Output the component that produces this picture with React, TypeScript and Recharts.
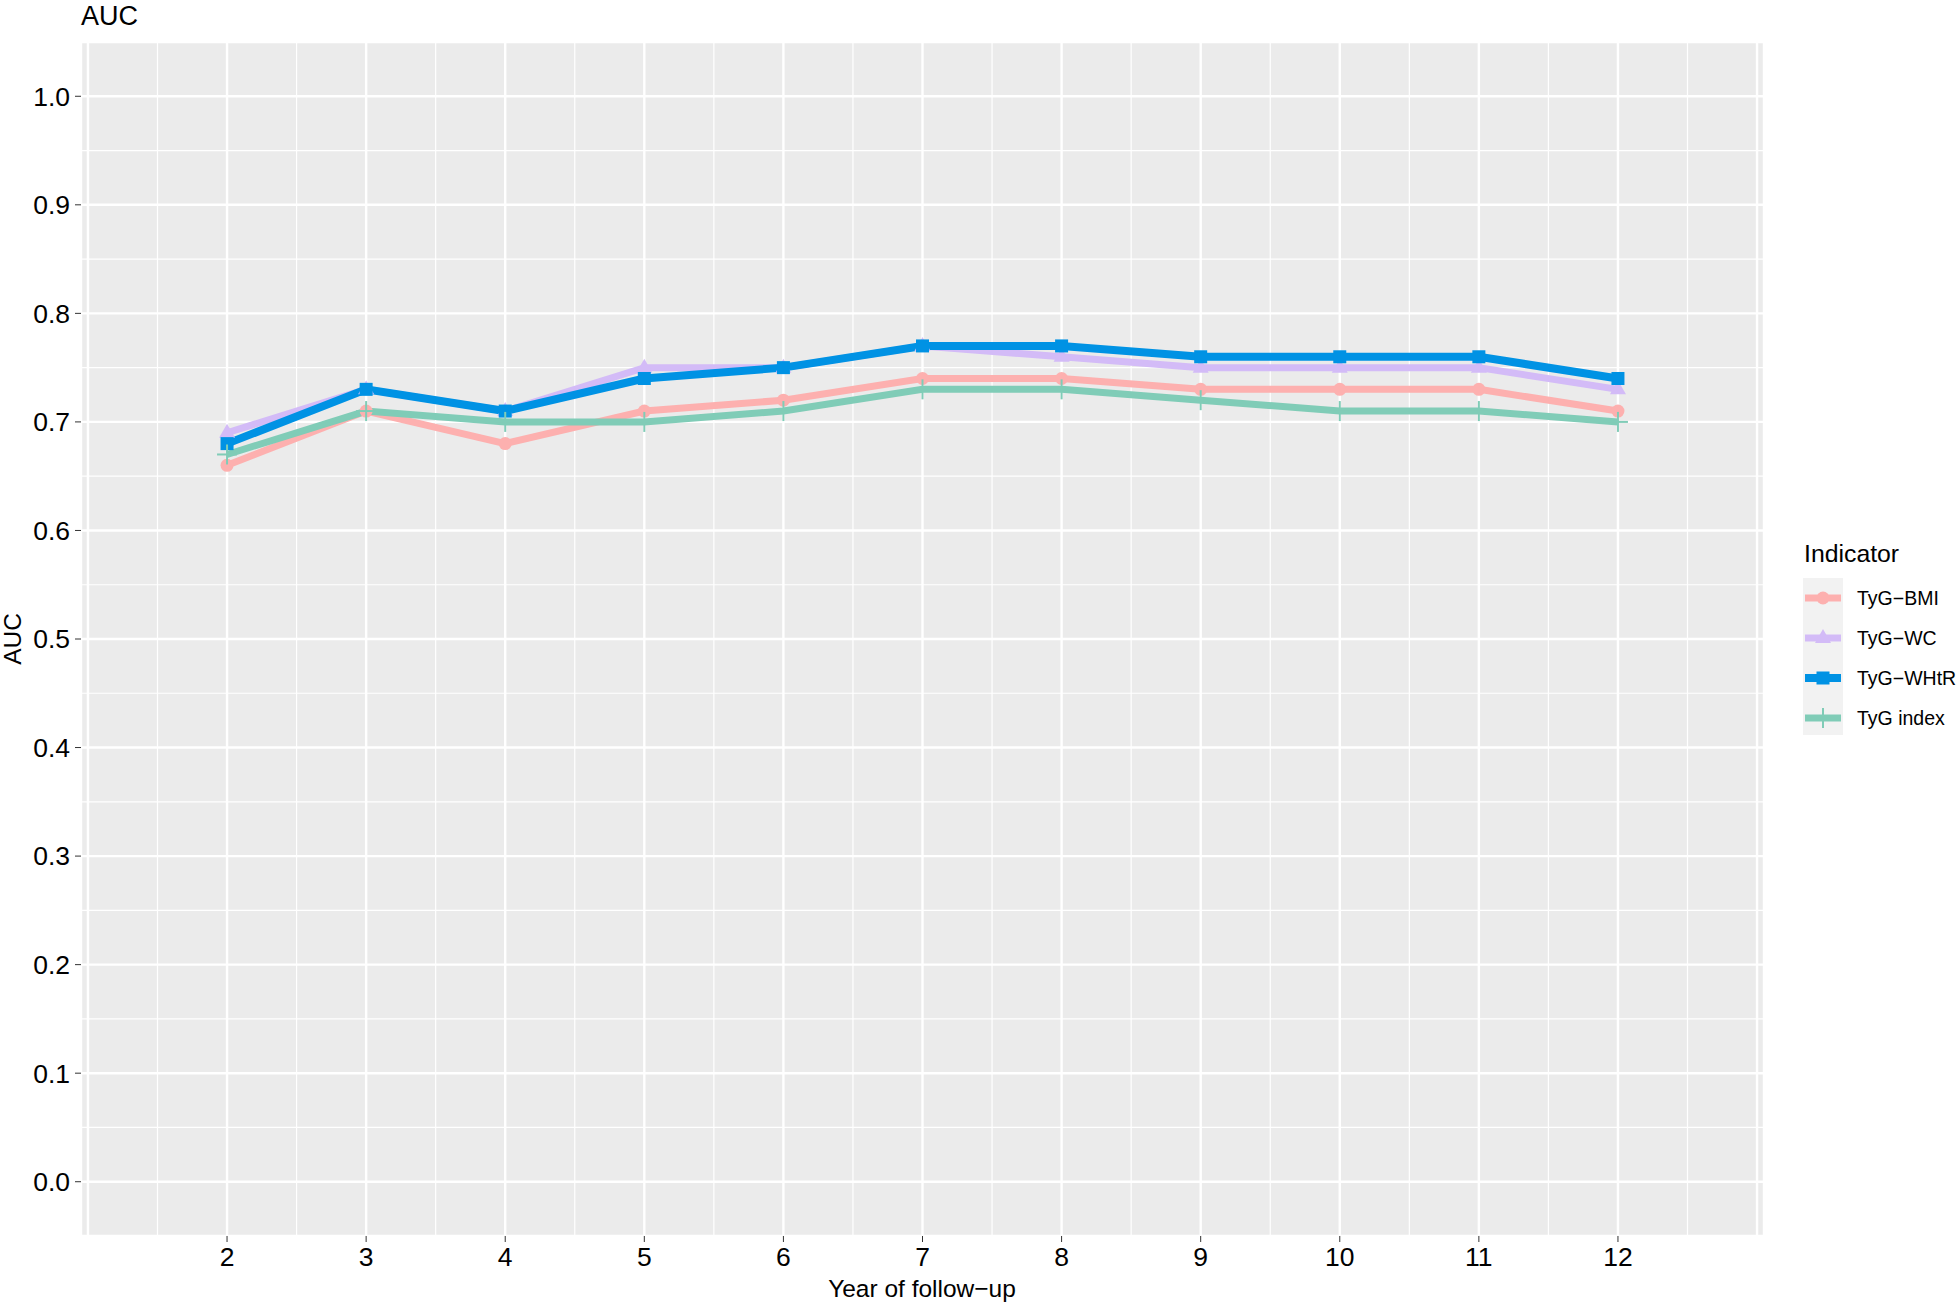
import React from 'react'
import { LineChart, Line, XAxis, YAxis, CartesianGrid } from 'recharts'

// values
const years = [2, 3, 4, 5, 6, 7, 8, 9, 10, 11, 12]
const tygBmi = [0.66, 0.71, 0.68, 0.71, 0.72, 0.74, 0.74, 0.73, 0.73, 0.73, 0.71]
const tygWc = [0.69, 0.73, 0.71, 0.75, 0.75, 0.77, 0.76, 0.75, 0.75, 0.75, 0.73]
const tygWhtr = [0.68, 0.73, 0.71, 0.74, 0.75, 0.77, 0.77, 0.76, 0.76, 0.76, 0.74]
const tygIndex = [0.67, 0.71, 0.7, 0.7, 0.71, 0.73, 0.73, 0.72, 0.71, 0.71, 0.7]

const yTicks = [0, 0.1, 0.2, 0.3, 0.4, 0.5, 0.6, 0.7, 0.8, 0.9, 1.0]
const yMinor = [0.05, 0.15, 0.25, 0.35, 0.45, 0.55, 0.65, 0.75, 0.85, 0.95]
const xMajor = [1, 2, 3, 4, 5, 6, 7, 8, 9, 10, 11, 12, 13]
const xMinor = [1.5, 2.5, 3.5, 4.5, 5.5, 6.5, 7.5, 8.5, 9.5, 10.5, 11.5, 12.5]

const series = [
  { key: 'bmi', name: 'TyG−BMI', color: '#FDB0AF', shape: 'circle', width: 7 },
  { key: 'wc', name: 'TyG−WC', color: '#D3BBF7', shape: 'triangle', width: 7 },
  { key: 'whtr', name: 'TyG−WHtR', color: '#0092E4', shape: 'square', width: 8 },
  { key: 'tyg', name: 'TyG index', color: '#80CCB7', shape: 'plus', width: 7 },
]

const data = years.map((y, i) => ({
  year: y,
  bmi: tygBmi[i],
  wc: tygWc[i],
  whtr: tygWhtr[i],
  tyg: tygIndex[i],
}))

const FONT = '"Liberation Sans", Arial, sans-serif'

function Marker({ cx, cy, shape, color }: any) {
  if (cx == null || cy == null) return null
  if (shape === 'circle') return <circle cx={cx} cy={cy} r={6.5} fill={color} />
  if (shape === 'square') return <rect x={cx - 6.5} y={cy - 6.5} width={13} height={13} fill={color} />
  if (shape === 'triangle')
    return <polygon points={`${cx},${cy - 9} ${cx - 8},${cy + 5} ${cx + 8},${cy + 5}`} fill={color} />
  return (
    <g stroke={color} strokeWidth={2}>
      <line x1={cx - 10} y1={cy} x2={cx + 10} y2={cy} />
      <line x1={cx} y1={cy - 10} x2={cx} y2={cy + 10} />
    </g>
  )
}

function LegendBox() {
  return (
    <svg width={170} height={200} style={{ position: 'absolute', left: 1795, top: 535 }}>
      <text x={9} y={27} fontSize={24.8} fill="#000" fontFamily={FONT}>Indicator</text>
      <rect x={8} y={43} width={40} height={159} fill="#F2F2F2" />
      {series.map((s, i) => {
        const cy = 63 + i * 40
        return (
          <g key={s.key}>
            <line x1={10} y1={cy} x2={46} y2={cy} stroke={s.color} strokeWidth={s.width} />
            <Marker cx={28} cy={cy} shape={s.shape} color={s.color} />
            <text x={62} y={cy + 7} fontSize={19.5} fill="#000" fontFamily={FONT}>{s.name}</text>
          </g>
        )
      })}
    </svg>
  )
}

export default function App() {
  const tickStyle = { fontSize: 26.5, fill: '#000', fontFamily: FONT }
  return (
    <div style={{ position: 'absolute', left: 0, top: 0, width: 1960, height: 1304, background: '#fff', fontFamily: FONT }}>
      <LineChart width={1960} height={1304} data={data} margin={{ top: 42, right: 196, bottom: 0, left: 0 }}>
        <XAxis xAxisId="main" dataKey="year" type="number" domain={[0.95, 13.05]} ticks={years}
          tick={tickStyle} tickSize={6} tickMargin={5} stroke="#333" axisLine={false} height={68} allowDataOverflow />
        <XAxis xAxisId="major" dataKey="year" type="number" domain={[0.95, 13.05]} ticks={xMajor} hide allowDataOverflow />
        <XAxis xAxisId="minor" dataKey="year" type="number" domain={[0.95, 13.05]} ticks={xMinor} hide allowDataOverflow />
        <YAxis yAxisId="main" type="number" domain={[-0.05, 1.05]} ticks={yTicks} tickFormatter={(v: number) => v.toFixed(1)}
          tick={tickStyle} tickSize={6} tickMargin={5} stroke="#333" axisLine={false} width={81} allowDataOverflow />
        <YAxis yAxisId="minor" type="number" domain={[-0.05, 1.05]} ticks={yMinor} hide allowDataOverflow />
        <CartesianGrid xAxisId="major" yAxisId="main" fill="#EBEBEB" stroke="#FFFFFF" strokeWidth={2.4} />
        <CartesianGrid xAxisId="minor" yAxisId="minor" stroke="#FFFFFF" strokeWidth={1.2} />
        {series.map(s => (
          <Line key={s.key} xAxisId="main" yAxisId="main" type="linear" dataKey={s.key} stroke={s.color}
            strokeWidth={s.width} dot={false} activeDot={false} isAnimationActive={false} />
        ))}
        {series.map(s => (
          <Line key={s.key + '-pts'} xAxisId="main" yAxisId="main" type="linear" dataKey={s.key} stroke="none"
            strokeWidth={0} activeDot={false} isAnimationActive={false} legendType="none"
            dot={(p: any) => <Marker key={s.key + p.index} cx={p.cx} cy={p.cy} shape={s.shape} color={s.color} />} />
        ))}
      </LineChart>
      <svg width={1960} height={1304} style={{ position: 'absolute', left: 0, top: 0, pointerEvents: 'none' }}>
        <text x={81} y={25} fontSize={27} fill="#000" fontFamily={FONT}>AUC</text>
        <text x={922} y={1297} fontSize={24.5} fill="#000" fontFamily={FONT} textAnchor="middle">Year of follow−up</text>
        <text x={21} y={639} fontSize={24.5} fill="#000" fontFamily={FONT} textAnchor="middle"
          transform="rotate(-90, 21, 639)">AUC</text>
      </svg>
      <LegendBox />
    </div>
  )
}
